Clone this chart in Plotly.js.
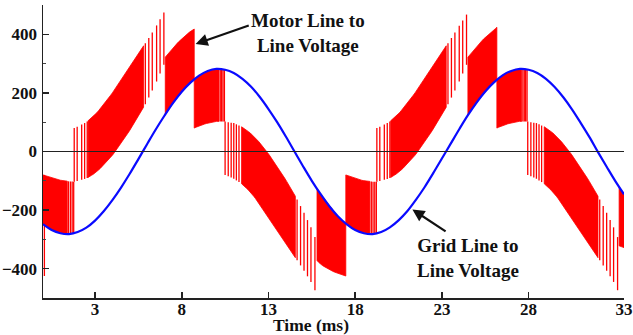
<!DOCTYPE html>
<html><head><meta charset="utf-8">
<script src="https://cdn.plot.ly/plotly-3.0.1.min.js"></script>
<style>html,body{margin:0;padding:0;background:#fff}#chart{width:633px;height:335px}</style>
</head><body><div id="chart"></div>
<script>
// ---- axis ticks ----
const xTickVals = [3, 8, 13, 18, 23, 28, 33.5];
const xTickText = ['3', '8', '13', '18', '23', '28', '33'];
const yTickVals = [-400, -200, 0, 200, 400];

// ---- grid line-to-line voltage (blue) ----
const gridX = [0,0.5,1,1.5,2,2.5,3,3.5,4,4.5,5,5.5,6,6.5,7,7.5,8,8.5,9,9.5,10,10.5,11,11.5,12,12.5,13,13.5,14,14.5,15,15.5,16,16.5,17,17.5,18,18.5,19,19.5,20,20.5,21,21.5,22,22.5,23,23.5,24,24.5,25,25.5,26,26.5,27,27.5,28,28.5,29,29.5,30,30.5,31,31.5,32,32.5,33,33.5];
const gridV = [-248,-268,-279,-282,-275,-260,-236,-204,-166,-123,-76,-26,25,75,122,166,204,235,259,275,282,279,268,248,221,186,145,100,51,0,-51,-100,-145,-186,-221,-248,-268,-279,-282,-275,-259,-235,-204,-165,-122,-74,-24,26,76,124,167,205,236,260,275,282,279,268,248,220,185,144,98,50,-2,-52,-101,-146];

// ---- motor line-to-line voltage (red): bands of PWM switching ----
// each band: x, lower edge, upper edge, solid span, isolated switching lines
const xA1 = [0, 0.5, 1.0, 1.5, 1.8];
const loA1 = [-248, -268, -279, -282, -278];
const hiA1 = [-80, -90, -98, -102, -103];
const solidA1 = [0, 1.4];
const linesA1 = [1.47, 1.58, 1.68, 1.77];

const xB1 = [1.8, 2.5, 3.0, 3.5, 4.0, 4.5, 5.0, 5.5, 6.0, 6.5, 7.0];
const loB1 = [-103, -92, -74, -47, -13, 27, 72, 120, 172, 232, 300];
const hiB1 = [80, 100, 125, 160, 200, 245, 290, 335, 378, 425, 478];
const solidB1 = [2.6, 5.8];
const linesB1 = [1.8, 1.97, 2.23, 2.4, 2.55, 5.9, 6.1, 6.3, 6.55, 6.75, 6.97];

const xC1 = [7.05, 7.5, 8.0, 8.5, 8.72];
const loC1 = [126, 166, 204, 235, 246];
const hiC1 = [322, 355, 385, 410, 418];
const solidC1 = [7.05, 8.72];
const linesC1 = [];

const xD1 = [8.72, 9.0, 9.5, 10.0, 10.5];
const loD1 = [80, 88, 97, 103, 102];
const hiD1 = [246, 259, 275, 282, 279];
const solidD1 = [8.72, 10.15];
const linesD1 = [10.22, 10.3, 10.38, 10.46];

const xE1 = [10.5, 11.0, 11.5, 12.0, 12.5, 13.0, 13.5, 14.0, 14.5, 15.0, 15.5, 15.7];
const loE1 = [-80, -93, -112, -141, -180, -223, -268, -313, -358, -402, -450, -476];
const hiE1 = [102, 97, 83, 61, 30, -8, -50, -97, -147, -203, -265, -295];
const solidE1 = [11.45, 14.55];
const linesE1 = [10.5, 10.68, 10.85, 11.0, 11.15, 11.3, 14.65, 14.85, 15.05, 15.25, 15.45, 15.68];

const xF1 = [15.8, 16.0, 16.5, 17.0, 17.46];
const loF1 = [-372, -385, -403, -417, -425];
const hiF1 = [-129, -145, -186, -221, -246];
const solidF1 = [15.8, 17.46];
const linesF1 = [];

const xG1 = [17.46, 18.0, 18.5, 19.0, 19.25];
const loG1 = [-246, -268, -279, -282, -279];
const hiG1 = [-80, -92, -100, -103, -103];
const solidG1 = [17.46, 18.85];
const linesG1 = [18.93, 19.03, 19.13, 19.22];

const xB2 = [19.25, 19.95, 20.45, 20.95, 21.45, 21.95, 22.45, 22.95, 23.45, 23.95, 24.45];
const loB2 = [-103, -92, -74, -47, -13, 27, 72, 120, 172, 232, 300];
const hiB2 = [80, 100, 125, 160, 200, 245, 290, 335, 378, 425, 470];
const solidB2 = [20.05, 23.25];
const linesB2 = [19.25, 19.42, 19.68, 19.85, 20.0, 23.35, 23.55, 23.75, 24.0, 24.2, 24.42];

const xC2 = [24.5, 24.95, 25.45, 25.95, 26.17];
const loC2 = [124, 163, 201, 233, 244];
const hiC2 = [322, 355, 387, 412, 424];
const solidC2 = [24.5, 26.17];
const linesC2 = [];

const xD2 = [26.17, 26.45, 26.95, 27.45, 27.95];
const loD2 = [80, 88, 97, 103, 102];
const hiD2 = [244, 258, 274, 282, 279];
const solidD2 = [26.17, 27.6];
const linesD2 = [27.67, 27.75, 27.83, 27.91];

const xE2 = [27.95, 28.45, 28.95, 29.45, 29.95, 30.45, 30.95, 31.45, 31.95, 32.45, 32.95, 33.15];
const loE2 = [-80, -93, -112, -141, -180, -223, -268, -313, -358, -402, -450, -476];
const hiE2 = [102, 97, 83, 61, 30, -8, -50, -97, -147, -203, -265, -295];
const solidE2 = [28.9, 32.0];
const linesE2 = [27.95, 28.13, 28.3, 28.45, 28.6, 28.75, 32.1, 32.3, 32.5, 32.7, 32.9, 33.13];

const xF2 = [33.22, 33.5];
const loF2 = [-322, -328];
const hiF2 = [-122, -146];
const solidF2 = [33.22, 33.5];
const linesF2 = [];

// single switching edge at the start of the record
const edgeX = [0.08];
const edgeLo = [-425];
const edgeHi = [-80];

// ---- helpers ----
function interp(xs, ys, x) {
  if (x <= xs[0]) return ys[0];
  for (let i = 1; i < xs.length; i++) {
    if (x <= xs[i]) {
      const t = (x - xs[i-1]) / (xs[i] - xs[i-1]);
      return ys[i-1] + t * (ys[i] - ys[i-1]);
    }
  }
  return ys[ys.length - 1];
}
const RED = '#ff0000';
const traces = [];
const bands = [
  [xA1, loA1, hiA1, solidA1, linesA1], [xB1, loB1, hiB1, solidB1, linesB1],
  [xC1, loC1, hiC1, solidC1, linesC1], [xD1, loD1, hiD1, solidD1, linesD1],
  [xE1, loE1, hiE1, solidE1, linesE1], [xF1, loF1, hiF1, solidF1, linesF1],
  [xG1, loG1, hiG1, solidG1, linesG1], [xB2, loB2, hiB2, solidB2, linesB2],
  [xC2, loC2, hiC2, solidC2, linesC2], [xD2, loD2, hiD2, solidD2, linesD2],
  [xE2, loE2, hiE2, solidE2, linesE2], [xF2, loF2, hiF2, solidF2, linesF2]
];
const lineX = [], lineY = [];
bands.forEach(([xs, lo, hi, solid, lines]) => {
  const s0 = solid[0], s1 = solid[1];
  const pts = [s0];
  for (let x = s0 + 0.1; x < s1 - 0.02; x += 0.1) pts.push(x);
  pts.push(s1);
  const px = [], py = [];
  pts.forEach(x => { px.push(x); py.push(interp(xs, hi, x)); });
  pts.slice().reverse().forEach(x => { px.push(x); py.push(interp(xs, lo, x)); });
  px.push(px[0]); py.push(py[0]);
  traces.push({type:'scatter', mode:'lines', x:px, y:py, fill:'toself', fillcolor:RED,
    line:{color:RED, width:0.8}, hoverinfo:'skip', showlegend:false});
  lines.forEach(x => { lineX.push(x, x, null); lineY.push(interp(xs, lo, x), interp(xs, hi, x), null); });
});
edgeX.forEach((x, i) => { lineX.push(x, x, null); lineY.push(edgeLo[i], edgeHi[i], null); });
traces.push({type:'scatter', mode:'lines', x:lineX, y:lineY, line:{color:RED, width:1.3},
  hoverinfo:'skip', showlegend:false, connectgaps:false});
traces.push({type:'scatter', mode:'lines', x:gridX, y:gridV, line:{color:'#0a0aff', width:2.2, shape:'spline'},
  hoverinfo:'skip', showlegend:false, name:'Grid Line to Line Voltage'});

const serif = '"Liberation Serif", "Times New Roman", serif';
const axFont = {family:serif, size:17, color:'#111', weight:'bold'};
const layout = {
  width:633, height:335,
  margin:{l:43, r:9, t:5, b:37},
  paper_bgcolor:'#ffffff', plot_bgcolor:'#ffffff',
  showlegend:false,
  xaxis:{range:[0,33.5], tickvals:xTickVals, ticktext:xTickText, ticks:'inside', ticklen:6,
    tickwidth:1.5, tickcolor:'#222', showline:true, linecolor:'#222', linewidth:1.5,
    showgrid:false, zeroline:false, tickfont:axFont, ticklabelstandoff:-5, fixedrange:true},
  yaxis:{range:[-500,500], tickvals:yTickVals, ticks:'inside', ticklen:6, tickwidth:1.5,
    tickcolor:'#222', showline:true, linecolor:'#222', linewidth:1.5, showgrid:false,
    zeroline:true, zerolinecolor:'#222', zerolinewidth:1.5, zerolinelayer:'above traces',
    minor:{dtick:100, tick0:0, ticks:'inside', ticklen:3, tickcolor:'#444', tickwidth:1},
    tickfont:axFont, ticklabelstandoff:1, fixedrange:true},
  annotations:[
    {xref:'paper', yref:'paper', x:0.462, y:-0.093, text:'<b>Time (ms)</b>', showarrow:false,
     font:{family:serif, size:17.5, color:'#111'}, xanchor:'center', yanchor:'middle'},
    {xref:'paper', yref:'paper', x:0.456, y:0.905, text:'<b>Motor Line to<br>Line Voltage</b>', showarrow:false,
     font:{family:serif, size:19, color:'#111'}, xanchor:'center', yanchor:'middle'},
    {xref:'paper', yref:'paper', x:0.732, y:0.135, text:'<b>Grid Line to<br>Line Voltage</b>', showarrow:false,
     font:{family:serif, size:19, color:'#111'}, xanchor:'center', yanchor:'middle'},
    {xref:'x', yref:'y', axref:'x', ayref:'y', x:8.8, y:367, ax:11.95, ay:432, text:'',
     showarrow:true, arrowhead:2, arrowsize:1.1, arrowwidth:2.2, arrowcolor:'#111'},
    {xref:'x', yref:'y', axref:'x', ayref:'y', x:21.3, y:-198, ax:23.3, ay:-276, text:'',
     showarrow:true, arrowhead:2, arrowsize:1.1, arrowwidth:2.2, arrowcolor:'#111'}
  ]
};
Plotly.newPlot('chart', traces, layout, {staticPlot:true, displayModeBar:false});
</script></body></html>
